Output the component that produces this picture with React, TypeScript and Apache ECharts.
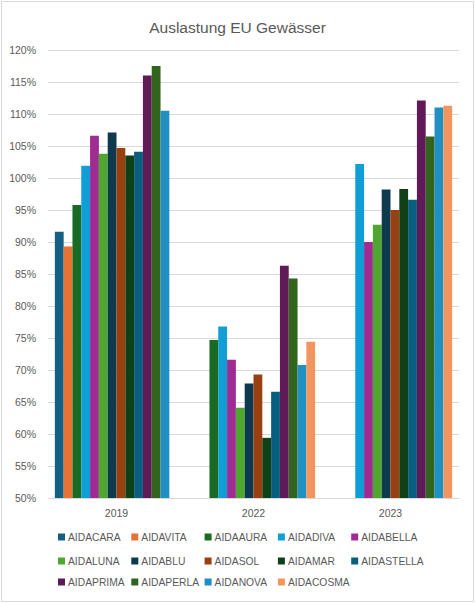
import React, { useEffect, useRef } from "react";
import * as echarts from "echarts";

const years = ["2019", "2022", "2023"];
const ships = [
  "AIDACARA", "AIDAVITA", "AIDAAURA", "AIDADIVA", "AIDABELLA",
  "AIDALUNA", "AIDABLU", "AIDASOL", "AIDAMAR", "AIDASTELLA",
  "AIDAPRIMA", "AIDAPERLA", "AIDANOVA", "AIDACOSMA",
];
const colors = [
  "#156082", "#E97132", "#196B24", "#0F9ED5", "#A02B93",
  "#4EA72E", "#0D3A4E", "#9A4010", "#0F4016", "#095F80",
  "#601A58", "#31651E", "#2090C4", "#F1965F",
];
// values in percent per ship: [2019, 2022, 2023]
const aidacara = [91.6, null, null];
const aidavita = [89.3, null, null];
const aidaaura = [95.8, 74.7, null];
const aidadiva = [101.9, 76.8, 102.2];
const aidabella = [106.6, 71.6, 90.0];
const aidaluna = [103.8, 64.1, 92.7];
const aidablu = [107.1, 67.9, 98.2];
const aidasol = [104.7, 69.3, 95.0];
const aidamar = [103.5, 59.4, 98.3];
const aidastella = [104.1, 66.6, 96.6];
const aidaprima = [116.0, 86.3, 112.1];
const aidaperla = [117.5, 84.3, 106.5];
const aidanova = [110.5, 70.8, 111.0];
const aidacosma = [null, 74.4, 111.3];
const values = [
  aidacara, aidavita, aidaaura, aidadiva, aidabella, aidaluna, aidablu,
  aidasol, aidamar, aidastella, aidaprima, aidaperla, aidanova, aidacosma,
];
const yMin = 50;
const yMax = 120;
const yStep = 5;
const title = "Auslastung EU Gewässer";

const FONT = "'Liberation Sans', Arial, sans-serif";
const GREY = "#595959";

export default function App() {
  const ref = useRef<HTMLDivElement>(null);
  useEffect(() => {
    if (!ref.current) return;
    const chart = echarts.init(ref.current, undefined, { renderer: "svg" });
    const legendTops = [532, 556, 577];
    const perRow = 5;
    chart.setOption({
      animation: false,
      backgroundColor: "#ffffff",
      textStyle: { fontFamily: FONT },
      title: {
        text: title,
        left: "center",
        top: 14,
        textStyle: { fontFamily: FONT, fontSize: 15.5, fontWeight: "normal", color: GREY },
      },
      graphic: [
        {
          type: "rect",
          shape: { x: 1.5, y: 1.5, width: 472, height: 600 },
          style: { fill: "none", stroke: "#d9d9d9", lineWidth: 1 },
          silent: true,
        },
      ],
      legend: ships.map((name, i) => ({
        data: [name],
        left: 58 + (i % perRow) * 73.3,
        top: legendTops[Math.floor(i / perRow)],
        padding: 0,
        itemWidth: 7,
        itemHeight: 7,
        icon: "rect",
        selectedMode: false,
        textStyle: { fontFamily: FONT, fontSize: 10.3, color: GREY, padding: [0, 0, 0, -2] },
      })),
      grid: { left: 48, right: 16, top: 50, bottom: 105, containLabel: false },
      xAxis: {
        type: "category",
        data: years,
        axisLine: { show: true, lineStyle: { color: "#d9d9d9" } },
        axisTick: { show: false },
        axisLabel: { color: GREY, fontSize: 10.5, fontFamily: FONT, margin: 9 },
      },
      yAxis: {
        type: "value",
        min: yMin,
        max: yMax,
        interval: yStep,
        axisLine: { show: false },
        axisTick: { show: false },
        axisLabel: { color: GREY, fontSize: 10.5, fontFamily: FONT, margin: 12, formatter: "{value}%" },
        splitLine: { lineStyle: { color: "#d9d9d9", width: 1 } },
      },
      series: ships.map((name, i) => ({
        name,
        type: "bar",
        data: values[i],
        barGap: "0%",
        barCategoryGap: "10%",
        itemStyle: { color: colors[i] },
      })),
    });
    return () => chart.dispose();
  }, []);
  return (
    <div
      ref={ref}
      style={{ position: "fixed", left: 0, top: 0, width: 475, height: 603 }}
    />
  );
}
